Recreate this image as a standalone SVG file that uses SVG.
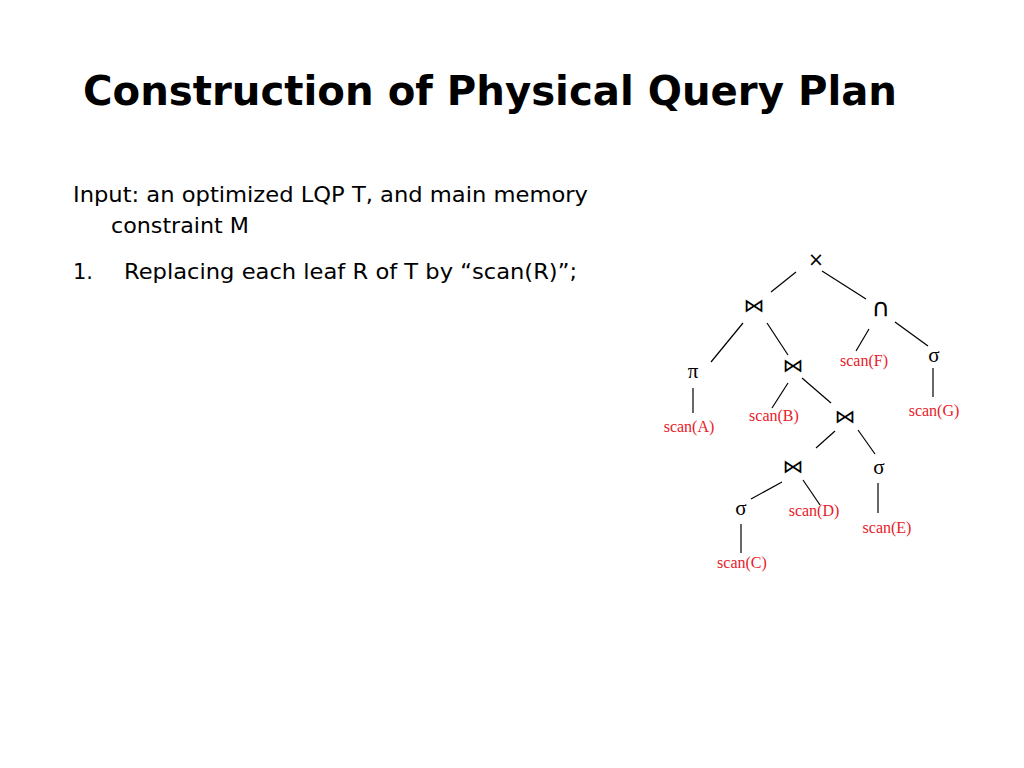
<svg xmlns="http://www.w3.org/2000/svg" width="1024" height="768" viewBox="0 0 1024 768">
<style>
.title{font-family:"DejaVu Sans",sans-serif;font-weight:bold;font-size:40px;fill:#000}
.body{font-family:"DejaVu Sans",sans-serif;font-size:21px;fill:#000}
.op{font-family:"Liberation Serif",serif;font-size:21px;fill:#000;text-anchor:middle}
.join{font-family:"DejaVu Sans",sans-serif;font-size:19px;fill:#000;text-anchor:middle}
.sym{font-family:"DejaVu Sans",sans-serif;font-size:19px;fill:#000;text-anchor:middle}
.scan{font-family:"Liberation Serif",serif;font-size:16px;fill:#e8202a;text-anchor:middle}
.edge{stroke:#000;stroke-width:1.2;fill:none}
</style>
<rect width="1024" height="768" fill="#fff"/>
<text class="title" x="83" y="105" textLength="814" lengthAdjust="spacingAndGlyphs">Construction of Physical Query Plan</text>
<text class="body" x="73" y="202" textLength="515" lengthAdjust="spacingAndGlyphs">Input: an optimized LQP T, and main memory</text>
<text class="body" x="111" y="233" textLength="138" lengthAdjust="spacingAndGlyphs">constraint M</text>
<text class="body" x="73" y="279">1.</text>
<text class="body" x="124" y="279" textLength="453" lengthAdjust="spacingAndGlyphs">Replacing each leaf R of T by “scan(R)”;</text>
<g id="connectors">
<line class="edge" x1="796" y1="272" x2="771" y2="292"/>
<line class="edge" x1="822" y1="271" x2="866" y2="299"/>
<line class="edge" x1="743" y1="323" x2="711" y2="362"/>
<line class="edge" x1="767" y1="323" x2="788" y2="355"/>
<line class="edge" x1="869" y1="329" x2="856" y2="351"/>
<line class="edge" x1="895" y1="322" x2="928" y2="346"/>
<line class="edge" x1="693" y1="388" x2="693" y2="413"/>
<line class="edge" x1="788" y1="383" x2="772" y2="408"/>
<line class="edge" x1="802" y1="378" x2="831" y2="403"/>
<line class="edge" x1="933" y1="368" x2="933" y2="397"/>
<line class="edge" x1="835" y1="431" x2="816" y2="448"/>
<line class="edge" x1="858" y1="430" x2="875" y2="454"/>
<line class="edge" x1="782" y1="482" x2="751" y2="499"/>
<line class="edge" x1="803" y1="480" x2="820" y2="505"/>
<line class="edge" x1="878" y1="483" x2="878" y2="513"/>
<line class="edge" x1="741" y1="524" x2="741" y2="553"/>
</g>
<g id="n-product"><text class="sym" x="816" y="266">×</text></g>
<g id="n-join1"><text class="join" x="754" y="312" textLength="21" lengthAdjust="spacingAndGlyphs">⋈</text></g>
<g id="n-union"><text class="sym" x="881" y="316" style="font-size:25px">∩</text></g>
<g id="n-pi"><text class="op" x="693" y="378">π</text></g>
<g id="n-scanA"><text class="scan" x="689" y="432">scan(A)</text></g>
<g id="n-join2"><text class="join" x="793" y="372" textLength="21" lengthAdjust="spacingAndGlyphs">⋈</text></g>
<g id="n-scanF"><text class="scan" x="864" y="366">scan(F)</text></g>
<g id="n-sigmaG"><text class="op" x="934" y="362">σ</text></g>
<g id="n-scanG"><text class="scan" x="934" y="416">scan(G)</text></g>
<g id="n-scanB"><text class="scan" x="774" y="421">scan(B)</text></g>
<g id="n-join3"><text class="join" x="845" y="423" textLength="21" lengthAdjust="spacingAndGlyphs">⋈</text></g>
<g id="n-join4"><text class="join" x="793" y="473" textLength="21" lengthAdjust="spacingAndGlyphs">⋈</text></g>
<g id="n-sigmaE"><text class="op" x="879" y="474">σ</text></g>
<g id="n-scanE"><text class="scan" x="887" y="533">scan(E)</text></g>
<g id="n-sigmaC"><text class="op" x="741" y="515">σ</text></g>
<g id="n-scanD"><text class="scan" x="814" y="516">scan(D)</text></g>
<g id="n-scanC"><text class="scan" x="742" y="568">scan(C)</text></g>
</svg>
